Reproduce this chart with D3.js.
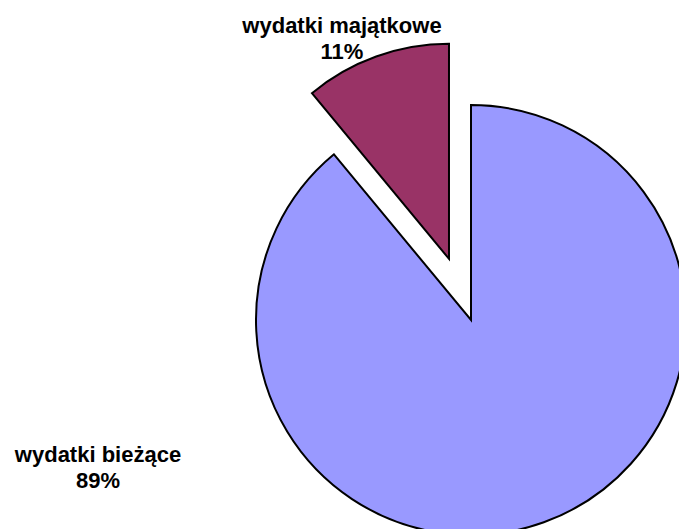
<!DOCTYPE html>
<html>
<head>
<meta charset="utf-8">
<script src="https://cdnjs.cloudflare.com/ajax/libs/d3/7.8.5/d3.min.js"></script>
<style>
  body { margin: 0; background: #fff; }
  svg { display: block; }
</style>
</head>
<body>
<script>
var width = 679;
var height = 529;

var categories = ["wydatki bieżące", "wydatki majątkowe"];
var values = [89, 11];
var colors = ["#9999FF", "#993366"];
var explode = [0, 65];

// label anchor positions (text centre, first baseline)
var labelPos = [[98, 462], [342, 33]];

var cx = 471, cy = 320, radius = 215;

var svg = d3.select("body")
    .append("svg")
    .attr("width", width)
    .attr("height", height);

var data = categories.map(function(c, i) {
  return {name: c, value: values[i]};
});

var pie = d3.pie()
  .sort(null)
  .value(function(d) { return d.value; });

var arc = d3.arc()
  .innerRadius(0)
  .outerRadius(radius);

var g = svg.append("g")
  .attr("transform", "translate(" + cx + "," + cy + ")");

g.selectAll("path")
  .data(pie(data))
  .enter()
  .append("path")
    .attr("d", arc)
    .attr("fill", function(d, i) { return colors[i]; })
    .attr("stroke", "#000")
    .attr("stroke-width", 2)
    .attr("stroke-linejoin", "miter")
    .attr("transform", function(d, i) {
      var a = (d.startAngle + d.endAngle) / 2;
      return "translate(" + (Math.sin(a) * explode[i]) + "," + (-Math.cos(a) * explode[i]) + ")";
    });

var total = d3.sum(values);

var labels = svg.selectAll("text.lbl")
  .data(data)
  .enter()
  .append("text")
    .attr("class", "lbl")
    .attr("x", function(d, i) { return labelPos[i][0]; })
    .attr("y", function(d, i) { return labelPos[i][1]; })
    .attr("text-anchor", "middle")
    .attr("font-family", "'Liberation Sans', Arial, sans-serif")
    .attr("font-weight", "bold")
    .attr("font-size", "22px")
    .attr("fill", "#000");

labels.append("tspan")
  .text(function(d) { return d.name; });

labels.append("tspan")
  .attr("x", function(d, i) { return labelPos[i][0]; })
  .attr("dy", 26)
  .text(function(d) { return Math.round(d.value / total * 100) + "%"; });
</script>
</body>
</html>
